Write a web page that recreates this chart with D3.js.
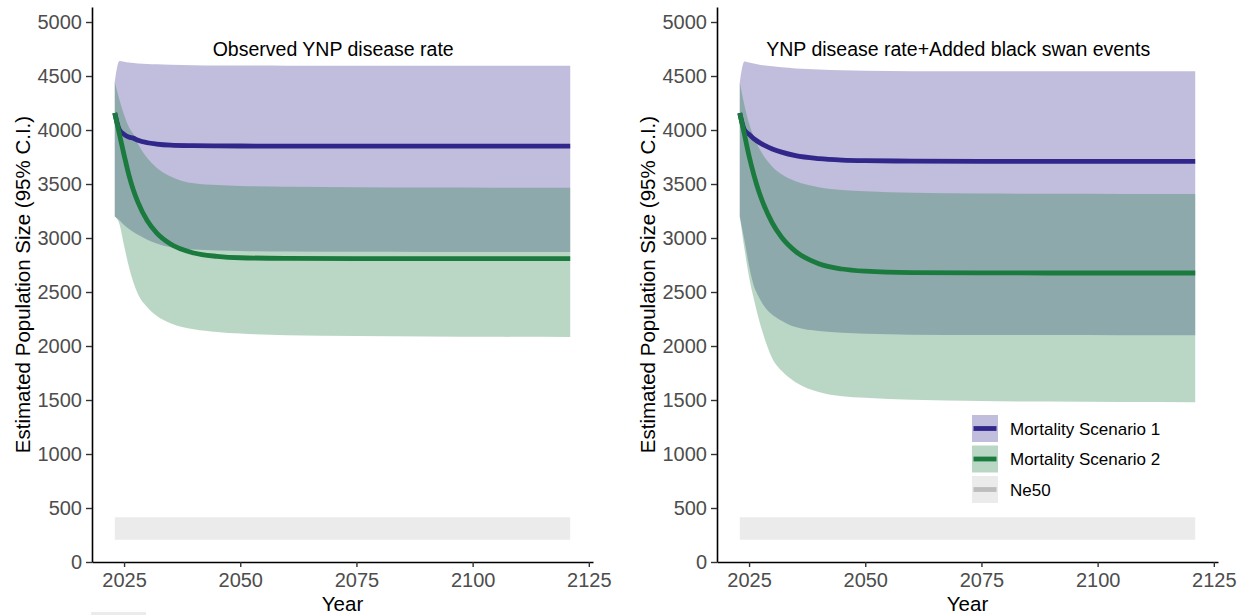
<!DOCTYPE html>
<html>
<head>
<meta charset="utf-8">
<script src="https://cdn.jsdelivr.net/npm/d3@7"></script>
<style>
  html, body { margin: 0; padding: 0; background: #ffffff; }
  svg { display: block; font-family: "Liberation Sans", Arial, sans-serif; }
</style>
</head>
<body>
<svg id="chart" width="1245" height="615"></svg>
<script>
// Projection years (sampled) shared by every series
const years = [2023, 2024, 2025, 2026, 2027, 2028, 2030, 2032, 2035, 2040, 2045, 2050, 2060, 2075, 2090, 2105, 2121];

// Panel 1: observed YNP disease rate
const obsS1Mean = [4157, 4000, 3960, 3935, 3925, 3905, 3882, 3870, 3860, 3855, 3853, 3852, 3850, 3850, 3850, 3850, 3850];
const obsS1Lo   = [3200, 3165, 3120, 3085, 3055, 3030, 2985, 2950, 2915, 2893, 2885, 2880, 2875, 2872, 2871, 2870, 2870];
const obsS1Hi   = [4447, 4640, 4632, 4625, 4620, 4616, 4612, 4608, 4605, 4600, 4598, 4597, 4595, 4595, 4595, 4595, 4595];
const obsS2Mean = [4157, 3960, 3770, 3590, 3445, 3330, 3160, 3048, 2944, 2861, 2830, 2817, 2812, 2810, 2810, 2810, 2810];
const obsS2Lo   = [3200, 3130, 2930, 2740, 2590, 2480, 2360, 2280, 2210, 2155, 2130, 2115, 2100, 2092, 2088, 2085, 2083];
const obsS2Hi   = [4447, 4280, 4141, 4030, 3960, 3870, 3740, 3650, 3570, 3506, 3490, 3482, 3475, 3470, 3467, 3466, 3465];

// Panel 2: YNP disease rate plus black swan events
const swanS1Mean = [4157, 4000, 3960, 3920, 3890, 3865, 3825, 3795, 3762, 3735, 3722, 3716, 3712, 3710, 3710, 3710, 3710];
const swanS1Lo   = [3200, 2980, 2740, 2560, 2460, 2385, 2290, 2235, 2175, 2138, 2122, 2113, 2105, 2102, 2101, 2100, 2100];
const swanS1Hi   = [4440, 4635, 4625, 4615, 4607, 4600, 4590, 4580, 4570, 4560, 4553, 4548, 4545, 4545, 4545, 4545, 4545];
const swanS2Mean = [4155, 3960, 3760, 3590, 3444, 3325, 3139, 3007, 2876, 2762, 2713, 2693, 2680, 2677, 2676, 2676, 2676];
const swanS2Lo   = [3200, 2900, 2640, 2440, 2265, 2115, 1885, 1770, 1665, 1575, 1535, 1520, 1502, 1490, 1485, 1482, 1480];
const swanS2Hi   = [4440, 4230, 4060, 3940, 3846, 3770, 3660, 3590, 3525, 3470, 3445, 3432, 3418, 3412, 3410, 3408, 3407];

// Ne50 reference band
const ne50Years = [2023, 2121];
const ne50Lo = [205, 205];
const ne50Hi = [415, 415];

// Axes, titles, legend
const xTicks = [2025, 2050, 2075, 2100, 2125];
const yTicks = [0, 500, 1000, 1500, 2000, 2500, 3000, 3500, 4000, 4500, 5000];
const panelTitles = ["Observed YNP disease rate", "YNP disease rate+Added black swan events"];
const titleAt = { year: 2070, value: 4750 };
const xLabel = "Year";
const yLabel = "Estimated Population Size (95% C.I.)";
const legendLabels = ["Mortality Scenario 1", "Mortality Scenario 2", "Ne50"];

// Styling
const lineColors = ["#31268a", "#1b7a3e", "#bdbdbd"];
const ribbonAlpha = 0.3;
const ne50Fill = "#ebebeb";

const svg = d3.select("#chart");

const x = d3.scaleLinear().domain([2018.1, 2125.9]).range([92, 593]);
const y = d3.scaleLinear().domain([0, 5139]).range([562, 7]);

const panels = [
  { s1: [obsS1Mean, obsS1Lo, obsS1Hi], s2: [obsS2Mean, obsS2Lo, obsS2Hi], dx: 0 },
  { s1: [swanS1Mean, swanS1Lo, swanS1Hi], s2: [swanS2Mean, swanS2Lo, swanS2Hi], dx: 625 }
];

const zip = (xs, ...cols) => xs.map((v, i) => [v, ...cols.map(c => c[i])]);

const smoothArea = d3.area()
  .x(d => x(d[0]))
  .y0(d => y(d[1]))
  .y1(d => y(d[2]))
  .curve(d3.curveMonotoneX);

const bandArea = d3.area()
  .x(d => x(d[0]))
  .y0(d => y(d[1]))
  .y1(d => y(d[2]));

const line = d3.line()
  .x(d => x(d[0]))
  .y(d => y(d[1]))
  .curve(d3.curveMonotoneX);

panels.forEach((p, pi) => {
  const g = svg.append("g").attr("transform", `translate(${p.dx},0)`);

  // Ne50 band
  g.append("path")
    .datum(zip(ne50Years, ne50Lo, ne50Hi))
    .attr("d", bandArea)
    .attr("fill", ne50Fill);

  // Confidence ribbons: scenario 1 underneath, scenario 2 on top
  [p.s1, p.s2].forEach((s, si) => {
    g.append("path")
      .datum(zip(years, s[1], s[2]))
      .attr("d", smoothArea)
      .attr("fill", lineColors[si])
      .attr("fill-opacity", ribbonAlpha);
  });

  // Mean trajectories
  [p.s1, p.s2].forEach((s, si) => {
    g.append("path")
      .datum(zip(years, s[0]))
      .attr("d", line)
      .attr("fill", "none")
      .attr("stroke", lineColors[si])
      .attr("stroke-width", 4.8);
  });

  // Axes
  const xAxis = g.append("g")
    .attr("transform", `translate(0,${y(0)})`)
    .call(d3.axisBottom(x).tickValues(xTicks).tickFormat(d3.format("d")).tickSize(5).tickPadding(6).tickSizeOuter(0));
  const yAxis = g.append("g")
    .attr("transform", `translate(${x.range()[0]},0)`)
    .call(d3.axisLeft(y).tickValues(yTicks).tickFormat(d3.format("d")).tickSize(6).tickPadding(4).tickSizeOuter(0));

  [xAxis, yAxis].forEach(ax => {
    ax.select(".domain").attr("stroke", "#000").attr("stroke-width", 1.6);
    ax.selectAll(".tick line").attr("stroke", "#333").attr("stroke-width", 1.4);
    ax.selectAll(".tick text")
      .attr("fill", "#4d4d4d")
      .style("font-size", "20px")
      .style("font-family", "'Liberation Sans', Arial, sans-serif");
  });

  // Axis titles
  const xMid = (x.range()[0] + x.range()[1]) / 2;
  g.append("text")
    .attr("x", xMid)
    .attr("y", 610.5)
    .attr("text-anchor", "middle")
    .style("font-size", "20.5px")
    .attr("fill", "#000")
    .text(xLabel);

  const yMid = (y.range()[0] + y.range()[1]) / 2;
  g.append("text")
    .attr("transform", `translate(29.5,${yMid}) rotate(-90)`)
    .attr("text-anchor", "middle")
    .style("font-size", "20.5px")
    .attr("fill", "#000")
    .text(yLabel);

  // Panel annotation
  g.append("text")
    .attr("x", x(titleAt.year))
    .attr("y", y(titleAt.value))
    .attr("dy", "0.35em")
    .attr("text-anchor", "middle")
    .style("font-size", "19.5px")
    .attr("fill", "#000")
    .text(panelTitles[pi]);
});

// Legend (inside the second panel)
const legend = svg.append("g").attr("transform", "translate(972,415)");
legendLabels.forEach((lab, i) => {
  const row = legend.append("g").attr("transform", `translate(0,${i * 30.5})`);
  row.append("rect")
    .attr("width", 26).attr("height", 27)
    .attr("fill", i < 2 ? lineColors[i] : ne50Fill)
    .attr("fill-opacity", i < 2 ? ribbonAlpha : 1);
  row.append("line")
    .attr("x1", 1.5).attr("x2", 24.5)
    .attr("y1", 13.5).attr("y2", 13.5)
    .attr("stroke", lineColors[i])
    .attr("stroke-width", 4.8);
  row.append("text")
    .attr("x", 38)
    .attr("y", 13.5)
    .attr("dy", "0.36em")
    .style("font-size", "17px")
    .attr("fill", "#000")
    .text(lab);
});

// Clipped key strip at the lower-left edge
svg.append("rect")
  .attr("x", 91).attr("y", 612)
  .attr("width", 55).attr("height", 3)
  .attr("fill", ne50Fill);
</script>
</body>
</html>
